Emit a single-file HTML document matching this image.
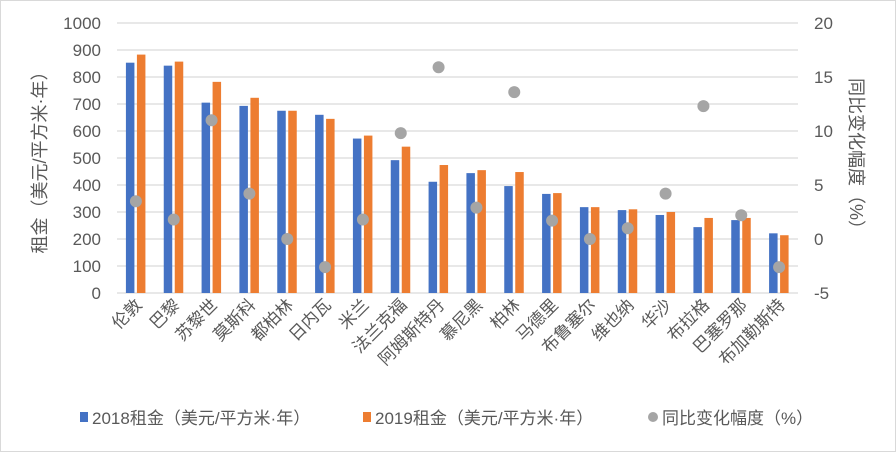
<!DOCTYPE html>
<html><head><meta charset="utf-8"><style>
html,body{margin:0;padding:0;background:#fff}
svg{display:block;font-family:"Liberation Sans","Noto Sans CJK SC",sans-serif}
</style></head><body>
<svg id="chart" width="896" height="452" viewBox="0 0 896 452">
<rect x="0.5" y="0.5" width="895" height="451" fill="#fff" stroke="#d9d9d9"/>
<g id="grid"></g><g id="bars"></g><g id="dots"></g><g id="axes"></g>
<text transform="translate(46,158) rotate(-90)" text-anchor="middle" font-size="18" fill="#595959">租金（美元/平方米·年）</text>
<text transform="translate(850,158) rotate(90)" text-anchor="middle" font-size="18" fill="#595959">同比变化幅度（%）</text>
<g font-size="17" fill="#595959">
<rect x="80" y="412" width="8" height="10" fill="#4472c4"/>
<text x="92" y="424">2018租金（美元/平方米·年）</text>
<rect x="363" y="412" width="8" height="10" fill="#ed7d31"/>
<text x="375" y="424">2019租金（美元/平方米·年）</text>
<circle cx="653" cy="417" r="5" fill="#a5a5a5"/>
<text x="662" y="424">同比变化幅度（%）</text>
</g>
</svg>
<script>
const categories=["伦敦","巴黎","苏黎世","莫斯科","都柏林","日内瓦","米兰","法兰克福","阿姆斯特丹","慕尼黑","柏林","马德里","布鲁塞尔","维也纳","华沙","布拉格","巴塞罗那","布加勒斯特"];
const rent2018=[853,842,705,693,675,660,572,492,412,444,396,367,318,307,289,244,270,221];
const rent2019=[883,857,782,723,675,645,583,542,474,455,448,370,318,310,300,278,278,214];
const change=[3.5,1.8,11,4.2,0,-2.6,1.8,9.8,15.9,2.9,13.6,1.7,0,1.0,4.2,12.3,2.2,-2.6];
const leftTicks=[0,100,200,300,400,500,600,700,800,900,1000];
const rightTicks=[-5,0,5,10,15,20];
const NS="http://www.w3.org/2000/svg";
const X0=117,X1=798,Y0=293,Y1=23;
const yL=v=>Y0-(v/1000)*(Y0-Y1);
const yR=v=>Y0-((v+5)/25)*(Y0-Y1);
const band=(X1-X0)/categories.length;
const xC=i=>X0+band*(i+0.5);
function mk(tag,attrs,parent){const e=document.createElementNS(NS,tag);for(const k in attrs)e.setAttribute(k,attrs[k]);document.getElementById(parent).appendChild(e);return e;}
leftTicks.forEach(t=>{
  const l=mk('line',{x1:X0,x2:X1,y1:yL(t),y2:yL(t),stroke:'#d9d9d9','stroke-width':1.3},'grid');
  
  
  const tx=mk('text',{x:101,y:yL(t)+6,'text-anchor':'end','font-size':17,fill:'#595959'},'axes');
  tx.textContent=t;
  
  
});
rightTicks.forEach(t=>{
  const tx=mk('text',{x:814,y:yR(t)+6,'text-anchor':'start','font-size':17,fill:'#595959'},'axes');
  tx.textContent=t;
  
  
});
categories.forEach((c,i)=>{
  const cx=xC(i);
  const b1=mk('rect',{x:cx-10,y:yL(rent2018[i]),width:8.5,height:Y0-yL(rent2018[i]),fill:'#4472c4'},'bars');
  
  
  const b2=mk('rect',{x:cx+1,y:yL(rent2019[i]),width:8.5,height:Y0-yL(rent2019[i]),fill:'#ed7d31'},'bars');
  
  
  const d=mk('circle',{cx:cx,cy:yR(change[i]),r:6,fill:'#a5a5a5'},'dots');
  
  
  const tx=mk('text',{transform:`translate(${cx+7},${Y0+13}) rotate(-45)`,'text-anchor':'end','font-size':17,fill:'#595959'},'axes');
  tx.textContent=c;
  
  
});
</script>
</body></html>
